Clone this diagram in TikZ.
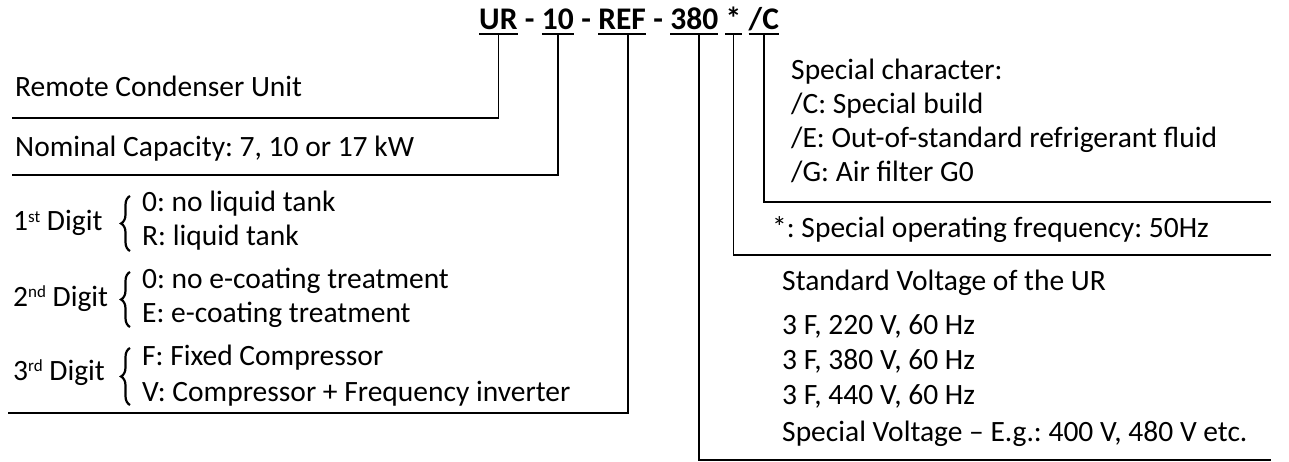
\documentclass[tikz,border=0pt]{standalone}
\usepackage{fontspec}
\setmainfont{Carlito}
\usetikzlibrary{decorations.pathreplacing}
\frenchspacing
\newcommand{\ordsup}[1]{\raisebox{9pt}{\fontsize{17}{17}\selectfont #1}}
\begin{document}
\begin{tikzpicture}[x=1pt,y=-1pt,
  txt/.style={anchor=base west, inner sep=0, font=\fontsize{29.5}{35}\selectfont},
  hdr/.style={anchor=base west, inner sep=0, font=\fontsize{31.5}{37}\selectfont\bfseries},
  conn/.style={line width=1.6pt},
  uline/.style={line width=2pt},
  brc/.style={decorate, decoration={brace, amplitude=9pt}, line width=2.2pt}]
\useasboundingbox (0,0) rectangle (1289,462);
% header tokens
\node[hdr] (ur) at (479,30) {UR};
\node[hdr] (s1) at ([xshift=7pt]ur.base east) {-};
\node[hdr] (ten) at ([xshift=7pt]s1.base east) {10};
\node[hdr] (s2) at ([xshift=7pt]ten.base east) {-};
\node[hdr] (ref) at ([xshift=7pt]s2.base east) {REF};
\node[hdr] (s3) at ([xshift=7pt]ref.base east) {-};
\node[hdr] (volt) at ([xshift=7pt]s3.base east) {380};
\node[hdr] (star) at ([xshift=7pt]volt.base east) {*};
\node[hdr] (spc) at ([xshift=7pt]star.base east) {/C};
\foreach \t in {ur,ten,ref,volt,star,spc}
  \draw[uline] ([yshift=-4pt]\t.base west) -- ([yshift=-4pt]\t.base east);
% left texts
\node[txt] (rcu) at (15,97) {Remote Condenser Unit};
\node[txt] (nom) at (15,157) {Nominal Capacity: 7, 10 or 17 kW};
\node[txt] (dg1) at (13,231) {1\ordsup{st} Digit};
\node[txt] (o1a) at (142,212) {0: no liquid tank};
\node[txt] (o1b) at (142,246) {R: liquid tank};
\node[txt] (dg2) at (13,306) {2\ordsup{nd} Digit};
\node[txt] (o2a) at (142,288) {0: no e-coating treatment};
\node[txt] (o2b) at (142,322) {E: e-coating treatment};
\node[txt] (dg3) at (13,380) {3\ordsup{rd} Digit};
\node[txt] (o3a) at (142,365) {F: Fixed Compressor};
\node[txt] (o3b) at (142,401) {V: Compressor + Frequency inverter};
\draw[brc] (130,251) -- (130,196);
\draw[brc] (130,327) -- (130,272);
\draw[brc] (130,405) -- (130,348);
% right texts
\node[txt] (sc0) at (791,80) {Special character:};
\node[txt] (sc1) at (791,114) {/C: Special build};
\node[txt] (sc2) at (791,148) {/E: Out-of-standard refrigerant fluid};
\node[txt] (sc3) at (791,182) {/G: Air filter G0};
\node[txt] (frq) at (772,237) {*: Special operating frequency: 50Hz};
\node[txt] (sv0) at (782,290) {Standard Voltage of the UR};
\node[txt] (sv1) at (782,334) {3 F, 220 V, 60 Hz};
\node[txt] (sv2) at (782,369) {3 F, 380 V, 60 Hz};
\node[txt] (sv3) at (782,404) {3 F, 440 V, 60 Hz};
\node[txt] (sv4) at (782,441) {Special Voltage -- E.g.: 400 V, 480 V etc.};
% connector ends
\coordinate (eUR) at (12,118);
\coordinate (eTen) at (12,175);
\coordinate (eRef) at (8,413);
\coordinate (eVolt) at (1271,460);
\coordinate (eStar) at (1271,255);
\coordinate (eSpc) at (1271,202);
\draw[conn] ([yshift=-4pt]ur.base) |- (eUR);
\draw[conn] ([yshift=-4pt]ten.base) |- (eTen);
\draw[conn] ([yshift=-4pt,xshift=6pt]ref.base) |- (eRef);
\draw[conn] ([yshift=-4pt,xshift=5pt]volt.base) |- (eVolt);
\draw[conn] ([yshift=-4pt]star.base) |- (eStar);
\draw[conn] ([yshift=-4pt]spc.base) |- (eSpc);
\end{tikzpicture}
\end{document}
